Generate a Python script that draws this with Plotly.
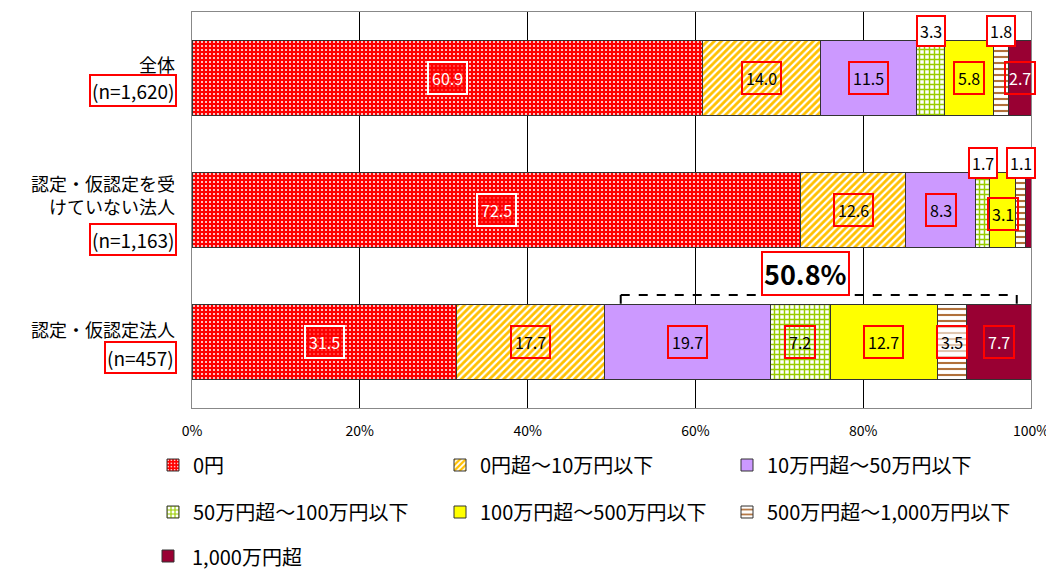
import plotly.graph_objects as go

# ---------------- data ----------------
categories = ["全体", "認定・仮認定を受けていない法人", "認定・仮認定法人"]
cat_titles = ["全体", "認定・仮認定を受<br>けていない法人", "認定・仮認定法人"]
cat_n = ["(n=1,620)", "(n=1,163)", "(n=457)"]

series_names = [
    "0円",
    "0円超～10万円以下",
    "10万円超～50万円以下",
    "50万円超～100万円以下",
    "100万円超～500万円以下",
    "500万円超～1,000万円以下",
    "1,000万円超",
]
v_0 = [60.9, 72.5, 31.5]
v_0_10 = [14.0, 12.6, 17.7]
v_10_50 = [11.5, 8.3, 19.7]
v_50_100 = [3.3, 1.7, 7.2]
v_100_500 = [5.8, 3.1, 12.7]
v_500_1000 = [1.8, 1.1, 3.5]
v_1000 = [2.7, 0.7, 7.7]
values = [v_0, v_0_10, v_10_50, v_50_100, v_100_500, v_500_1000, v_1000]

x_ticks = [0, 20, 40, 60, 80, 100]
x_ticktext = ["0%", "20%", "40%", "60%", "80%", "100%"]
bracket_label = "50.8%"

# ---------------- layout constants (pixels) ----------------
# the page body adds an 8px offset, so the figure is sized/placed to compensate
OFF = 8
W, H = 1046, 566
ML, MR, MT, MB = 184, 23, 4, 166
PW, PH = W - ML - MR, H - MT - MB


def px_x(p):  # screen pixel -> paper x
    return (p - OFF - ML) / PW


def px_y(p):  # screen pixel -> paper y
    return (H - MB - (p - OFF)) / PH


# ---------------- styles ----------------
FONT = "Noto Sans CJK JP, Noto Sans, sans-serif"
styles = [
    dict(shape=".", fg="#FFFFFF", bg="#FF0000", size=4, solidity=0.2),
    dict(shape="/", fg="#FFC000", bg="#FFFFFF", size=5, solidity=0.55),
    dict(shape="", fg="#CC99FF", bg="#CC99FF", size=6, solidity=0.5),
    dict(shape="+", fg="#99CC00", bg="#FFFFFF", size=5, solidity=0.5),
    dict(shape="", fg="#FFFF00", bg="#FFFF00", size=6, solidity=0.5),
    dict(shape="-", fg="#B0703A", bg="#FFFFFF", size=6, solidity=0.35),
    dict(shape="", fg="#990033", bg="#990033", size=6, solidity=0.5),
]
legend_of = ["legend", "legend", "legend", "legend2", "legend2", "legend2", None]

fig = go.Figure()
for i, (name, vals) in enumerate(zip(series_names, values)):
    st = styles[i]
    marker = dict(color=st["bg"], line=dict(color="#333333", width=1))
    if st["shape"]:
        marker["pattern"] = dict(shape=st["shape"], fgcolor=st["fg"], bgcolor=st["bg"],
                                 size=st["size"], solidity=st["solidity"], fillmode="replace")
    kw = dict(legend=legend_of[i]) if legend_of[i] else dict(showlegend=False)
    fig.add_trace(go.Bar(
        x=vals, y=categories, orientation="h", name=name, marker=marker,
        width=0.57, hoverinfo="x+y+name", **kw,
    ))

# ---------------- value labels ----------------
placement = {(0, 3): "above", (0, 5): "above", (1, 3): "above", (1, 5): "above", (1, 6): "hide"}
white_text = {0, 6}
annotations = []
for r in range(len(categories)):
    cum = 0.0
    for s in range(len(series_names)):
        v = values[s][r]
        mid = cum + v / 2
        cum += v
        mode = placement.get((r, s), "inside")
        if mode == "hide":
            continue
        txt_color = "white" if s in white_text else "black"
        border = "white" if s == 0 else "red"
        if s == 0:
            bg = "rgba(255,0,0,0.65)"
        elif s == 5:
            bg = "rgba(255,255,255,0.6)"
        else:
            bg = "rgba(0,0,0,0)"
        if mode == "above":
            txt_color = "black"
            bg = "white"
        annotations.append(dict(
            x=mid, y=categories[r], xref="x", yref="y", text=f"{v:.1f}",
            showarrow=False, font=dict(family=FONT, size=16, color=txt_color),
            bordercolor=border, borderwidth=2, borderpad=3 if mode == "inside" else 2, bgcolor=bg,
            yshift=47 if mode == "above" else (-4 if (r == 1 and s == 4) else 0),
        ))

# ---------------- category labels ----------------
title_shift = [14, 16, 13]
n_shift = [-12, -29, -15]
for r, cat in enumerate(categories):
    annotations.append(dict(
        x=px_x(177), y=cat, xref="paper", yref="y", xanchor="right", align="right",
        text=cat_titles[r], showarrow=False, yshift=title_shift[r],
        font=dict(family=FONT, size=18, color="black"),
    ))
    annotations.append(dict(
        x=px_x(177), y=cat, xref="paper", yref="y", xanchor="right",
        text=cat_n[r], showarrow=False, yshift=n_shift[r],
        font=dict(family=FONT, size=19, color="black"),
        bordercolor="red", borderwidth=2, borderpad=1,
    ))

# ---------------- bracket on bottom row ----------------
row = 2
b_start = values[0][row] + values[1][row] + 1.9
b_end = sum(v[row] for v in values) - 1.7
b_mid = (b_start + b_end) / 2
y_line = row - 0.356
y_tick = row - 0.29
shapes = [
    dict(type="line", xref="x", yref="y", x0=b_start, x1=b_end, y0=y_line, y1=y_line,
         line=dict(color="black", width=2, dash="dash")),
    dict(type="line", xref="x", yref="y", x0=b_start, x1=b_start, y0=y_line, y1=y_tick,
         line=dict(color="black", width=2)),
    dict(type="line", xref="x", yref="y", x0=b_end, x1=b_end, y0=y_line, y1=y_tick,
         line=dict(color="black", width=2)),
]
annotations.append(dict(
    x=b_mid - 1.6, y=row - 0.52, xref="x", yref="y", text=f"<b>{bracket_label}</b>",
    showarrow=False, font=dict(family=FONT, size=27, color="black"),
    bordercolor="red", borderwidth=2, borderpad=1, bgcolor="white",
))

# ---------------- legend (third row drawn manually to stay inside the page) ----------------
LEG_FONT = dict(family=FONT, size=20, color="black")
LEG_LEFT = px_x(153)
sw_cx, sw_cy = 168, 556
shapes.append(dict(type="rect", xref="paper", yref="paper",
                   x0=px_x(sw_cx - 6), x1=px_x(sw_cx + 6), y0=px_y(sw_cy + 6), y1=px_y(sw_cy - 6),
                   fillcolor=styles[6]["bg"], line=dict(color="#333333", width=1)))
annotations.append(dict(x=px_x(190), y=px_y(sw_cy), xref="paper", yref="paper",
                        xanchor="left", yanchor="middle", text=series_names[6],
                        showarrow=False, font=LEG_FONT))

common_leg = dict(orientation="h", x=LEG_LEFT, xanchor="left", yanchor="middle",
                  entrywidth=242, entrywidthmode="pixels", font=LEG_FONT,
                  itemwidth=30, bgcolor="rgba(0,0,0,0)", traceorder="normal")

fig.update_layout(
    width=W, height=H,
    margin=dict(l=ML, r=MR, t=MT, b=MB),
    paper_bgcolor="white", plot_bgcolor="white",
    barmode="stack", bargap=0.43,
    font=dict(family=FONT, size=15, color="black"),
    annotations=annotations, shapes=shapes,
    xaxis=dict(range=[0, 100], tickvals=x_ticks, ticktext=x_ticktext,
               showgrid=True, gridcolor="black", gridwidth=1,
               showline=True, linecolor="#888888", linewidth=1, mirror=True,
               ticks="", ticklabelstandoff=10, zeroline=False,
               tickfont=dict(family=FONT, size=14)),
    yaxis=dict(categoryorder="array", categoryarray=categories, range=[2.5, -0.5],
               showticklabels=False, ticks="", showgrid=False,
               showline=True, linecolor="#888888", linewidth=1, mirror=True),
    legend=dict(common_leg, y=px_y(465)),
    legend2=dict(common_leg, y=px_y(512)),
    showlegend=True,
)

fig.write_html("out.html")
